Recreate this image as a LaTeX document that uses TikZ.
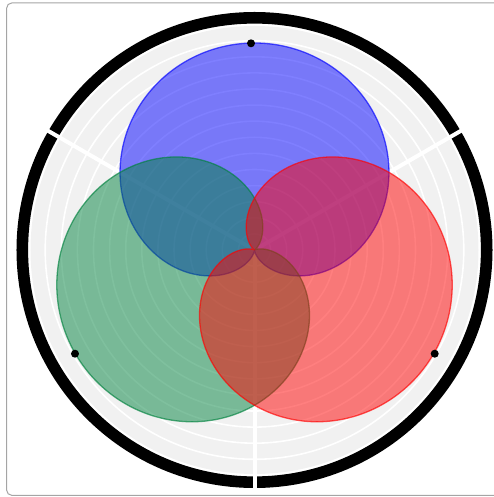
\documentclass[tikz,border=0pt]{standalone}
\definecolor{gridgray}{RGB}{241,241,241}
\definecolor{vblue}{RGB}{0,0,255}
\definecolor{vgreen}{RGB}{0,130,62}
\definecolor{vred}{RGB}{255,0,0}
\definecolor{framegray}{RGB}{165,165,165}
\tikzset{
  cardioid/.style={line width=1.3pt, fill opacity=0.5, draw opacity=0.65},
  gridring/.style={draw=white, line width=1.6pt},
  spoke/.style={draw=white, line width=4pt},
  dotmark/.style={circle, fill=black, inner sep=0pt, minimum size=8pt},
}
\begin{document}
\begin{tikzpicture}[x=1pt,y=1pt]
\useasboundingbox (-254.5,-247) rectangle (239.5,250);
\clip (-254.5,-247) rectangle (239.5,250);
% frame
\draw[framegray, line width=1pt, rounded corners=5pt] (-247.8,247) rectangle (245.5,-245.3);
% polar background
\fill[gridgray] (0,0) circle[radius=224];
\foreach \k in {1,...,13} \draw[gridring] (0,0) circle[radius=16.1*\k];
\draw[black, line width=11.6pt] (0,0) circle[radius=232.2];
\foreach \a in {30,150,270} \draw[spoke] (0,0) -- (\a:242);
% cardioid shapes
\filldraw[cardioid, draw=vblue, fill=vblue]
  plot[domain=0:360, samples=361] ({\x+90}:{103.5*(1+cos(\x))}) -- cycle;
\filldraw[cardioid, draw=vgreen, fill=vgreen]
  plot[domain=0:360, samples=361] ({\x+210}:{103.5*(1+cos(\x))}) -- cycle;
\filldraw[cardioid, draw=vred, fill=vred]
  plot[domain=0:360, samples=361] ({\x+330}:{103.5*(1+cos(\x))}) -- cycle;
% markers
\node[dotmark] (dotA) at (-3.5,206.7) {};
\node[dotmark] (dotB) at (-179.5,-103.7) {};
\node[dotmark] (dotC) at (180.2,-103.7) {};
\end{tikzpicture}
\end{document}
